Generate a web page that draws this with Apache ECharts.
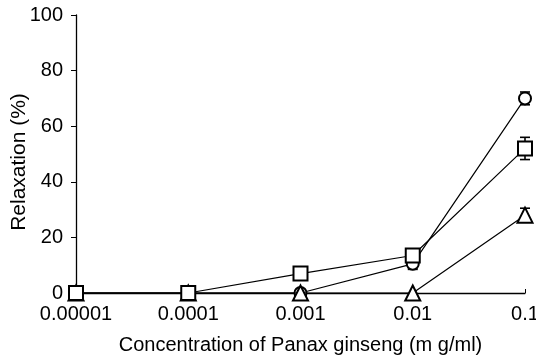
<!DOCTYPE html>
<html>
<head>
<meta charset="utf-8">
<script src="https://cdn.jsdelivr.net/npm/echarts@6/dist/echarts.min.js"></script>
<style>
  html, body { margin: 0; padding: 0; background: #fff; }
  #chart { width: 536px; height: 362px; }
</style>
</head>
<body>
<div id="chart"></div>
<script>
// concentrations (mg/ml)
var concentrations = [0.00001, 0.0001, 0.001, 0.01, 0.1];
var xTickLabels = ['0.00001', '0.0001', '0.001', '0.01', '0.1'];

// relaxation (%) for the three curves
var circleValues = [0, 0, 0, 10.5, 70];
var circleErr = [0, 0, 0, 2, 2.3];
var squareValues = [0, 0, 7, 13.5, 52];
var squareErr = [0, 0, 1, 1.5, 4];
var triangleValues = [0, 0, 0, 0, 28];
var triangleErr = [0, 0, 0, 0, 2.5];

var FONT = '"Liberation Sans", Arial, Helvetica, sans-serif';

function pairs(vals) {
  return concentrations.map(function (c, i) { return [c, vals[i]]; });
}

// error bars: [x, value, err]
function errData(vals, errs) {
  var out = [];
  concentrations.forEach(function (c, i) {
    if (errs[i] > 0) out.push([c, vals[i], errs[i]]);
  });
  return out;
}

function renderErr(params, api) {
  var x = api.value(0), y = api.value(1), e = api.value(2);
  var top = api.coord([x, y + e]);
  var bot = api.coord([x, y - e]);
  var w = 5;
  var st = { stroke: '#000', lineWidth: 1.6 };
  return {
    type: 'group',
    children: [
      { type: 'line', shape: { x1: top[0], y1: top[1], x2: bot[0], y2: bot[1] }, style: st },
      { type: 'line', shape: { x1: top[0] - w, y1: top[1], x2: top[0] + w, y2: top[1] }, style: st },
      { type: 'line', shape: { x1: bot[0] - w, y1: bot[1], x2: bot[0] + w, y2: bot[1] }, style: st }
    ]
  };
}

function lineSeries(name, vals, symbol, size, z) {
  return {
    name: name,
    type: 'line',
    data: pairs(vals),
    symbol: symbol,
    symbolSize: size,
    showAllSymbol: true,
    lineStyle: { color: '#000', width: 1.2 },
    itemStyle: { color: '#fff', borderColor: '#000', borderWidth: 2 },
    z: z
  };
}

function errSeries(vals, errs) {
  return {
    type: 'custom',
    renderItem: renderErr,
    data: errData(vals, errs),
    z: 2,
    silent: true
  };
}

var chart = echarts.init(document.getElementById('chart'));

var option = {
  animation: false,
  backgroundColor: '#fff',
  grid: { left: 76, right: 11, top: 15, bottom: 69, containLabel: false, outerBoundsMode: 'none' },
  xAxis: {
    type: 'log',
    logBase: 10,
    min: 0.00001,
    max: 0.1,
    name: 'Concentration of Panax ginseng (m g/ml)',
    nameLocation: 'middle',
    nameGap: 42,
    nameTextStyle: { color: '#000', fontSize: 20, fontFamily: FONT },
    axisLine: { lineStyle: { color: '#000', width: 1.3 } },
    axisTick: { show: true, inside: true, length: 4, lineStyle: { color: '#000' } },
    splitLine: { show: false },
    minorTick: { show: false },
    axisLabel: {
      color: '#000',
      fontSize: 20,
      fontFamily: FONT,
      margin: 11,
      formatter: function (v) {
        for (var i = 0; i < concentrations.length; i++) {
          if (Math.abs(Math.log10(v) - Math.log10(concentrations[i])) < 1e-6) return xTickLabels[i];
        }
        return '';
      }
    }
  },
  yAxis: {
    type: 'value',
    min: 0,
    max: 100,
    interval: 20,
    name: 'Relaxation (%)',
    nameLocation: 'middle',
    nameGap: 46,
    nameMoveOverlap: false,
    nameTextStyle: { color: '#000', fontSize: 21, fontFamily: FONT, padding: [0, 16, 0, 0] },
    axisLine: { show: true, lineStyle: { color: '#000', width: 1.3 } },
    axisTick: { show: true, length: 5, lineStyle: { color: '#000' } },
    splitLine: { show: false },
    axisLabel: { color: '#000', fontSize: 20, fontFamily: FONT, margin: 13 }
  },
  series: [
    errSeries(triangleValues, triangleErr),
    errSeries(squareValues, squareErr),
    errSeries(circleValues, circleErr),
    lineSeries('circle', circleValues, 'circle', 12, 3),
    lineSeries('triangle', triangleValues, 'triangle', 15, 4),
    lineSeries('square', squareValues, 'rect', 14, 5)
  ]
};

chart.setOption(option);
</script>
</body>
</html>
